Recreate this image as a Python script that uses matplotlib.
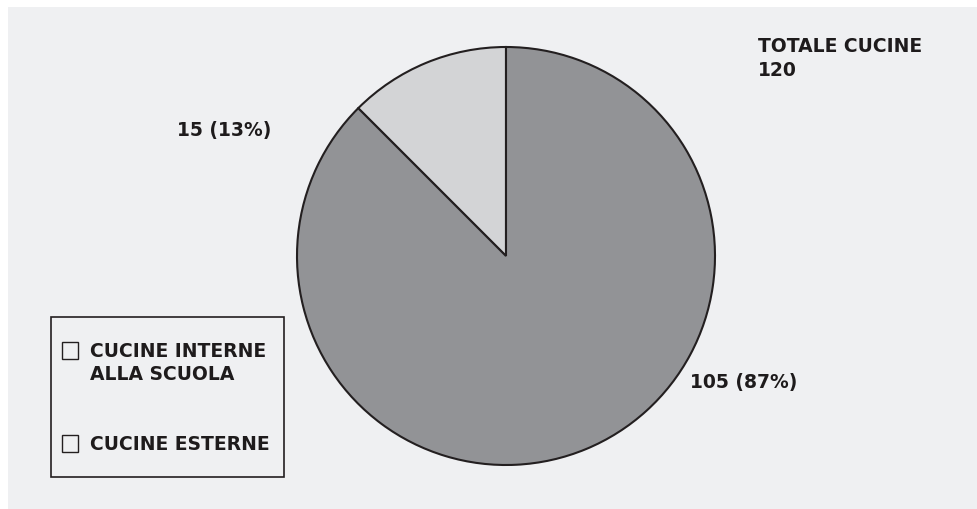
import matplotlib
matplotlib.use("Agg")
import matplotlib.pyplot as plt
from matplotlib.patches import Rectangle

# data
labels = ["CUCINE ESTERNE", "CUCINE INTERNE\nALLA SCUOLA"]
values = [15, 105]
pct_labels = ["15 (13%)", "105 (87%)"]
total_label = "TOTALE CUCINE\n120"
colors = ["#d3d4d6", "#929396"]

plt.rcParams['font.family'] = ['DejaVu Sans']
fig = plt.figure(figsize=(9.77, 5.10), dpi=100)
fig.patch.set_facecolor("white")
ax = fig.add_axes([0, 0, 1, 1])

# grey panel
ax.add_patch(Rectangle((8, 8), 980, 510, facecolor="#eff0f2", edgecolor="none", zorder=0))

# y axis is flipped below, so start at -90 and go clockwise in data space
wedges, _ = ax.pie(values, colors=colors, startangle=-90, counterclock=False,
                   center=(506, 257), radius=209, frame=True,
                   wedgeprops=dict(edgecolor="#231f20", linewidth=1.5))
ax.set_xlim(0, 977)
ax.set_ylim(510, 0)
ax.axis("off")

txt = dict(fontsize=13.5, fontweight="bold", color="#1e1b1c")
ax.text(177, 131, pct_labels[0], ha="left", va="center", **txt)
ax.text(690, 383, pct_labels[1], ha="left", va="center", **txt)
ax.text(758, 37, total_label, ha="left", va="top", linespacing=1.3, **txt)

# legend box
ax.add_patch(Rectangle((51, 318), 233, 160, facecolor="none", edgecolor="#231f20", linewidth=1.2))
ax.add_patch(Rectangle((62, 343), 16, 17, facecolor="none", edgecolor="#231f20", linewidth=1))
ax.add_patch(Rectangle((62, 436), 16, 17, facecolor="none", edgecolor="#231f20", linewidth=1))
ax.text(90, 342, labels[1], ha="left", va="top", linespacing=1.3, **txt)
ax.text(90, 445, labels[0], ha="left", va="center", **txt)

fig.savefig("out.png", dpi=100)
